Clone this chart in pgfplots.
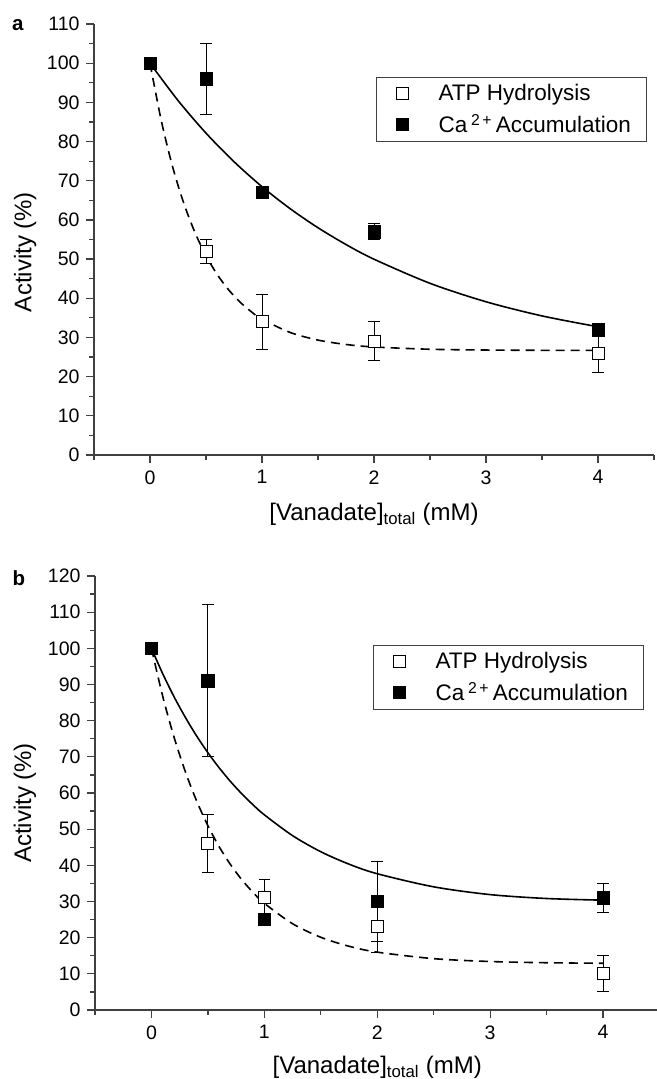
\documentclass[border=0pt]{standalone}
\usepackage{fontspec}
\setmainfont{Liberation Sans}
\usepackage{pgfplots}
\pgfplotsset{compat=1.18}
\definecolor{axgray}{HTML}{404040}
\newcommand{\tickfont}{\fontsize{19.5}{22}\selectfont}
\newcommand{\labfont}{\fontsize{24}{28}\selectfont}
\pgfplotsset{
  panel/.style={
    scale only axis,
    xmin=-0.5, xmax=4.5, ymin=0,
    clip=false,
    axis x line*=bottom, axis y line*=left,
    axis line style={axgray, line width=1.2pt},
    every tick/.style={axgray, line width=1.2pt},
    tick align=outside,
    major tick length=8pt, minor tick length=4.5pt,
    xtick={0,1,2,3,4},
    minor xtick={-0.5,0.5,1.5,2.5,3.5,4.5},
    xticklabel style={font=\tickfont, yshift=-4pt},
    yticklabel style={font=\tickfont, xshift=-3pt},
    /pgf/number format/assume math mode=true,
    legend style={draw=axgray, line width=1pt, anchor=north west, inner xsep=14pt, inner ysep=5pt, row sep=8pt, font=\fontsize{22.5}{26}\selectfont, cells={anchor=west}},
    legend cell align=left,
    legend image code/.code={\path[draw=none, fill=none] (0pt,-6pt) rectangle (46pt,6pt); \draw[##1] plot coordinates {(12pt,0pt)};},
    xlabel={[Vanadate]\textsubscript{total} (mM)},
    ylabel={Activity (\%)},
  },
  atpm/.style={only marks, mark=square*, mark size=6pt, mark options={fill=white, draw=black, line width=1pt, solid}},
  cam/.style={only marks, mark=square*, mark size=6.2pt, mark options={fill=black, draw=black, line width=0.6pt, solid}},
  eb/.style={error bars/.cd, y dir=both, y explicit, error bar style={black, line width=1pt}, error mark options={rotate=90, mark size=5.8pt, line width=1pt, black}},
  fitsolid/.style={black, line width=1.6pt, smooth},
  fitdash/.style={black, line width=1.6pt, smooth, dash pattern=on 9pt off 6pt},
}
\begin{document}
\begin{tikzpicture}
\useasboundingbox (0,0) rectangle (656pt,-1079pt);
% ---------------- panel a
\begin{axis}[panel,
  at={(94pt,-455pt)}, anchor=south west,
  width=560pt, height=431pt,
  ymax=110, ytick={0,10,...,110}, minor ytick={5,15,...,105},
  every axis y label/.style={at={(axis description cs:-0.123,0.471)}, rotate=90, anchor=center, font=\labfont},
  every axis x label/.style={at={(axis description cs:0.5,-0.152)}, anchor=base, font=\labfont},
  legend style={at={(axis description cs:0.5036,0.877)}},
]
\addlegendimage{atpm}
\addlegendentry{ATP Hydrolysis}
\addlegendimage{cam}
\addlegendentry{Ca\,\textsuperscript{2\,+}\,Accumulation}
\addplot[fitdash] coordinates {(0,100) (0.1,85.43) (0.2,73.75) (0.3,64.39) (0.4,56.89) (0.5,50.89) (0.6,46.08) (0.7,42.23) (0.8,39.14) (0.9,36.66) (1.0,34.68) (1.25,31.29) (1.5,29.33) (1.75,28.21) (2,27.57) (2.5,26.99) (3,26.79) (3.5,26.72) (4,26.70)};
\addplot[fitsolid] coordinates {(0,100) (0.25,90.48) (0.5,82.15) (0.75,74.86) (1,68.48) (1.25,62.89) (1.5,58.00) (1.75,53.72) (2,49.97) (2.5,43.82) (3,39.11) (3.5,35.50) (4,32.73)};
\addplot[atpm, eb] table[x=x, y=y, y error=e] {
x y e
0 100 0
0.5 52 3
1 34 7
2 29 5
4 26 5
};
\addplot[cam, eb] table[x=x, y=y, y error=e] {
x y e
0 100 0
0.5 96 9
1 67 0
2 57 2
4 32 0
};
\end{axis}
% ---------------- panel b
\begin{axis}[panel,
  at={(95pt,-1010pt)}, anchor=south west,
  width=564.5pt, height=434pt,
  ymax=120, ytick={0,10,...,120}, minor ytick={5,15,...,115},
  every axis y label/.style={at={(axis description cs:-0.124,0.477)}, rotate=90, anchor=center, font=\labfont},
  every axis x label/.style={at={(axis description cs:0.5,-0.146)}, anchor=base, font=\labfont},
  legend style={at={(axis description cs:0.4925,0.841)}},
]
\addlegendimage{atpm}
\addlegendentry{ATP Hydrolysis}
\addlegendimage{cam}
\addlegendentry{Ca\,\textsuperscript{2\,+}\,Accumulation}
\addplot[fitdash] coordinates {(0,100) (0.1,86.71) (0.2,75.45) (0.3,65.91) (0.4,57.82) (0.5,50.96) (0.6,45.14) (0.7,40.22) (0.8,36.04) (0.9,32.50) (1.0,29.50) (1.25,23.85) (1.5,20.11) (1.75,17.63) (2,16.00) (2.5,14.20) (3,13.41) (3.5,13.07) (4,12.92)};
\addplot[fitsolid] coordinates {(0,100) (0.1,92.97) (0.2,86.63) (0.3,80.93) (0.4,75.78) (0.5,71.14) (0.6,66.96) (0.7,63.19) (0.8,59.79) (0.9,56.73) (1.0,53.97) (1.25,48.21) (1.5,43.76) (1.75,40.33) (2,37.68) (2.5,34.06) (3,31.91) (3.5,30.83) (4,30.37)};
\addplot[atpm, eb] table[x=x, y=y, y error=e] {
x y e
0 100 0
0.5 46 8
1 31 5
2 23 7
4 10 5
};
\addplot[cam, eb] table[x=x, y=y, y error=e] {
x y e
0 100 0
0.5 91 21
1 25 0
2 30 11
4 31 4
};
\end{axis}
\node[font=\bfseries\fontsize{20.5}{24}\selectfont, anchor=base west, inner sep=0pt] at (12pt,-30.5pt) {a};
\node[font=\bfseries\fontsize{20.5}{24}\selectfont, anchor=base west, inner sep=0pt] at (12.5pt,-585pt) {b};
\end{tikzpicture}
\end{document}
